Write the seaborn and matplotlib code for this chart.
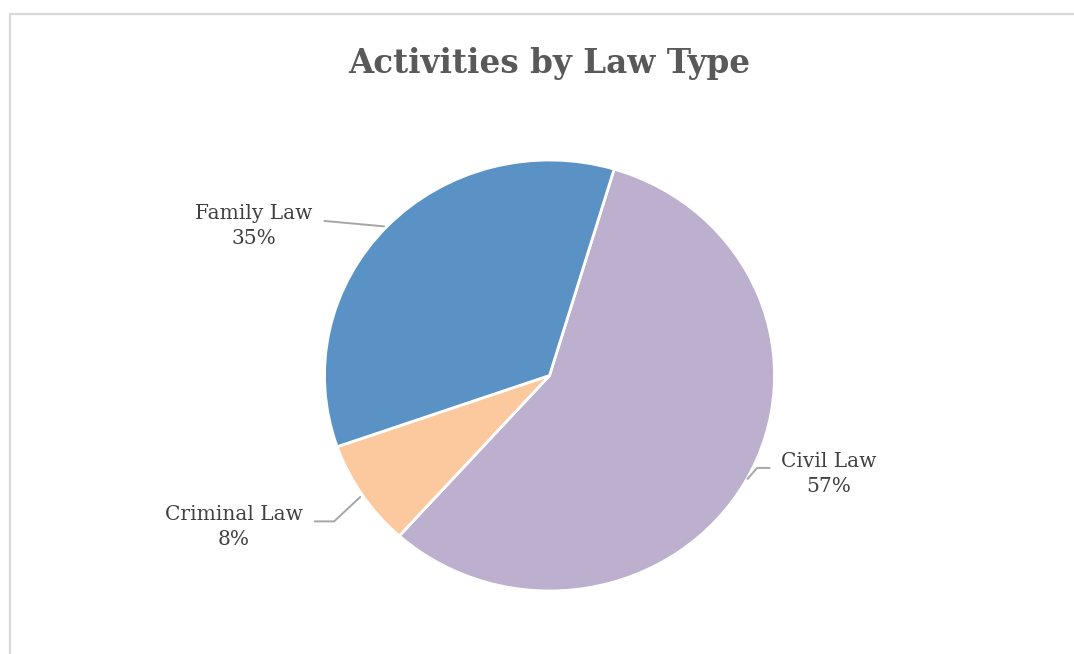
import numpy as np
import matplotlib
matplotlib.use("Agg")
import matplotlib.pyplot as plt
import seaborn as sns
from matplotlib.patches import Rectangle

# -------------------
# DATA
# -------------------
law_types = ["Civil Law", "Criminal Law", "Family Law"]
shares = [57, 8, 35]
slice_colors = ["#BDB0CE", "#FBC99D", "#5B92C6"]

# label positions (in pie-radius units) and leader-line styles
label_pos = [(1.242, -0.457), (-1.402, -0.703), (-1.313, 0.694)]
label_rel = [(0.0, 0.64), (1.0, 0.63), (1.0, 0.64)]
leader_style = ["angle,angleA=180,angleB=49,rad=0",
                "angle,angleA=0,angleB=43,rad=0",
                "arc3,rad=0"]

# -------------------
# STYLE
# -------------------
sns.set_theme(style="white")
plt.rcParams['font.family'] = ['DejaVu Serif', 'DejaVu Sans']

W, H = 1074, 654
CX, CY = 549.5, 375.5    # pie centre in pixels
RX, RY = 225, 215.5      # the reference pie is slightly stretched

fig = plt.figure(figsize=(W / 100, H / 100), dpi=100)
fig.patch.set_facecolor("white")

# chart border
fig.add_artist(Rectangle((10 / W, -0.1), 1.2, 1 - 14 / H + 0.1,
                         transform=fig.transFigure, fill=False,
                         edgecolor="#D9D9D9", linewidth=1.6))

ax = fig.add_axes([0, 0, 1, 1])
palette = sns.color_palette(slice_colors)

wedges, _ = ax.pie(shares, colors=palette, startangle=73.3, counterclock=False,
                   wedgeprops=dict(edgecolor="white", linewidth=2))

ax.set_aspect("auto")
ax.set_xlim(-CX / RX, (W - CX) / RX)
ax.set_ylim(-(H - CY) / RY, CY / RY)
ax.axis("off")

total = sum(shares)
for w, name, val, pos, rel, cs in zip(wedges, law_types, shares, label_pos,
                                      label_rel, leader_style):
    mid = np.deg2rad((w.theta1 + w.theta2) / 2)
    edge = (np.cos(mid), np.sin(mid))
    ax.annotate(f"{name}\n{val / total * 100:.0f}%", xy=edge, xytext=pos,
                ha="center", va="center", fontsize=14.5, color="#404040",
                linespacing=1.35,
                arrowprops=dict(arrowstyle="-", color="#A6A6A6", lw=1.4,
                                connectionstyle=cs, relpos=rel,
                                shrinkA=6, shrinkB=2))

fig.text(549 / W, 1 - 64 / H, "Activities by Law Type", ha="center",
         va="center", fontsize=23.5, fontweight="bold", color="#595959")

fig.savefig("out.png", dpi=100, facecolor="white")
